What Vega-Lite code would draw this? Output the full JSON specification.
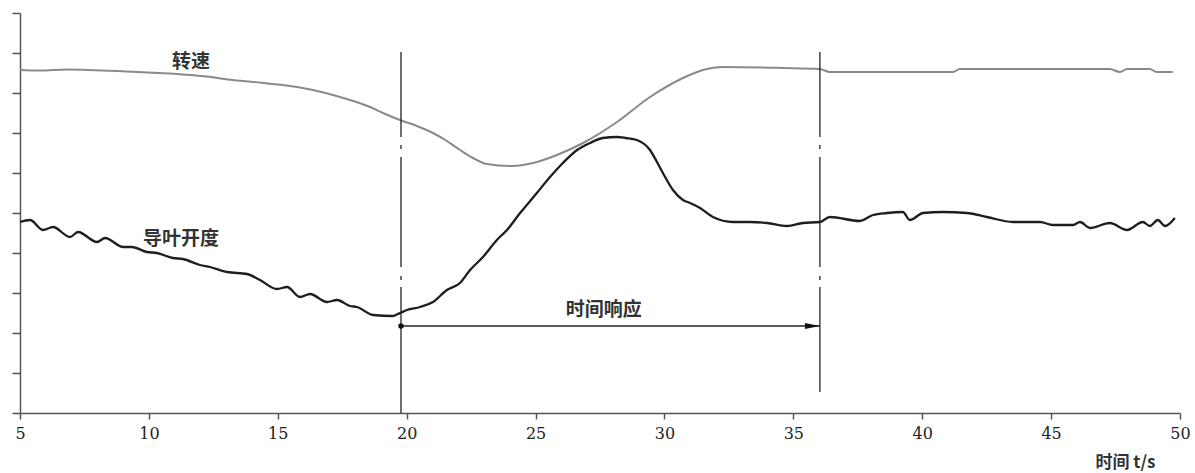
{
  "$schema": "https://vega.github.io/schema/vega-lite/v6.json",
  "width": 1160,
  "height": 400,
  "autosize": {"type": "none"},
  "padding": {"left": 20, "top": 13, "right": 15, "bottom": 60},
  "background": "white",
  "config": {"view": {"stroke": null}, "axis": {"grid": false}},
  "datasets": {
    "speed": [
      {"t": 5.00, "v": 8.575}, {"t": 5.78, "v": 8.56}, {"t": 6.82, "v": 8.59}, {"t": 9.38, "v": 8.53},
      {"t": 11.09, "v": 8.475}, {"t": 12.25, "v": 8.41}, {"t": 13.26, "v": 8.325}, {"t": 14.58, "v": 8.24},
      {"t": 15.86, "v": 8.14}, {"t": 17.80, "v": 7.825}, {"t": 18.58, "v": 7.65}, {"t": 19.08, "v": 7.50},
      {"t": 19.74, "v": 7.325}, {"t": 20.40, "v": 7.175}, {"t": 21.02, "v": 7.00}, {"t": 21.56, "v": 6.80},
      {"t": 22.07, "v": 6.575}, {"t": 22.57, "v": 6.375}, {"t": 23.11, "v": 6.225}, {"t": 24.12, "v": 6.175},
      {"t": 24.90, "v": 6.25}, {"t": 25.83, "v": 6.45}, {"t": 26.84, "v": 6.75}, {"t": 28.16, "v": 7.275},
      {"t": 29.44, "v": 7.90}, {"t": 30.72, "v": 8.375}, {"t": 31.49, "v": 8.575}, {"t": 32.27, "v": 8.65},
      {"t": 34.60, "v": 8.625}, {"t": 36.03, "v": 8.60}, {"t": 36.42, "v": 8.525}, {"t": 41.19, "v": 8.525},
      {"t": 41.46, "v": 8.60}, {"t": 47.28, "v": 8.60}, {"t": 47.67, "v": 8.525}, {"t": 47.94, "v": 8.60},
      {"t": 48.83, "v": 8.60}, {"t": 49.10, "v": 8.525}, {"t": 49.72, "v": 8.525}
    ],
    "guide": [
      {"t": 5.00, "v": 4.775}, {"t": 5.39, "v": 4.825}, {"t": 5.89, "v": 4.575}, {"t": 6.28, "v": 4.65},
      {"t": 6.94, "v": 4.40}, {"t": 7.25, "v": 4.525}, {"t": 7.99, "v": 4.275}, {"t": 8.30, "v": 4.375},
      {"t": 9.00, "v": 4.15}, {"t": 9.34, "v": 4.15}, {"t": 9.93, "v": 4.025}, {"t": 10.31, "v": 4.00},
      {"t": 10.93, "v": 3.875}, {"t": 11.32, "v": 3.85}, {"t": 11.98, "v": 3.70}, {"t": 12.37, "v": 3.65},
      {"t": 13.03, "v": 3.525}, {"t": 13.81, "v": 3.475}, {"t": 14.31, "v": 3.325}, {"t": 14.97, "v": 3.10},
      {"t": 15.36, "v": 3.15}, {"t": 15.86, "v": 2.90}, {"t": 16.25, "v": 2.975}, {"t": 16.91, "v": 2.775},
      {"t": 17.30, "v": 2.825}, {"t": 17.80, "v": 2.675}, {"t": 18.07, "v": 2.65}, {"t": 18.69, "v": 2.45},
      {"t": 19.47, "v": 2.425}, {"t": 19.66, "v": 2.475}, {"t": 20.01, "v": 2.575}, {"t": 20.52, "v": 2.65},
      {"t": 21.02, "v": 2.775}, {"t": 21.56, "v": 3.075}, {"t": 22.07, "v": 3.25}, {"t": 22.46, "v": 3.575},
      {"t": 22.96, "v": 3.90}, {"t": 23.50, "v": 4.325}, {"t": 23.89, "v": 4.575}, {"t": 24.40, "v": 5.00},
      {"t": 25.05, "v": 5.50}, {"t": 25.56, "v": 5.90}, {"t": 26.06, "v": 6.25}, {"t": 26.61, "v": 6.575},
      {"t": 27.11, "v": 6.75}, {"t": 27.61, "v": 6.875}, {"t": 28.16, "v": 6.90}, {"t": 28.50, "v": 6.875},
      {"t": 28.93, "v": 6.825}, {"t": 29.44, "v": 6.575}, {"t": 29.71, "v": 6.275}, {"t": 29.94, "v": 6.00},
      {"t": 30.33, "v": 5.575}, {"t": 30.72, "v": 5.325}, {"t": 30.99, "v": 5.25}, {"t": 31.38, "v": 5.125},
      {"t": 31.88, "v": 4.90}, {"t": 32.66, "v": 4.775}, {"t": 33.32, "v": 4.775}, {"t": 33.98, "v": 4.75},
      {"t": 34.75, "v": 4.675}, {"t": 35.37, "v": 4.75}, {"t": 36.03, "v": 4.775}, {"t": 36.42, "v": 4.90},
      {"t": 37.58, "v": 4.80}, {"t": 38.09, "v": 4.95}, {"t": 38.63, "v": 5.00}, {"t": 39.25, "v": 5.025},
      {"t": 39.52, "v": 4.825}, {"t": 40.03, "v": 5.00}, {"t": 40.80, "v": 5.025}, {"t": 41.73, "v": 5.00},
      {"t": 42.51, "v": 4.90}, {"t": 43.52, "v": 4.775}, {"t": 44.57, "v": 4.775}, {"t": 45.07, "v": 4.70},
      {"t": 45.85, "v": 4.70}, {"t": 46.12, "v": 4.775}, {"t": 46.51, "v": 4.625}, {"t": 47.28, "v": 4.75},
      {"t": 47.94, "v": 4.575}, {"t": 48.56, "v": 4.775}, {"t": 48.83, "v": 4.675}, {"t": 49.14, "v": 4.825},
      {"t": 49.42, "v": 4.675}, {"t": 49.80, "v": 4.875}
    ],
    "vlines": [
      {"t": 19.78, "y0": 9.025, "y1": 6.90}, {"t": 19.78, "y0": 6.70, "y1": 6.60},
      {"t": 19.78, "y0": 6.40, "y1": 3.65}, {"t": 19.78, "y0": 3.425, "y1": 3.325},
      {"t": 19.78, "y0": 3.15, "y1": 0},
      {"t": 36.03, "y0": 9.025, "y1": 6.90}, {"t": 36.03, "y0": 6.70, "y1": 6.60},
      {"t": 36.03, "y0": 6.40, "y1": 3.65}, {"t": 36.03, "y0": 3.425, "y1": 3.325},
      {"t": 36.03, "y0": 3.15, "y1": 0.525}
    ],
    "arrow": [{"t0": 19.78, "t1": 36.03, "v": 2.175}],
    "head": [{"t": 35.74, "v": 2.175}],
    "dot": [{"t": 19.78, "v": 2.175}],
    "labels": [
      {"t": 11.63, "v": 8.775, "text": "转速"},
      {"t": 11.25, "v": 4.35, "text": "导叶开度"},
      {"t": 27.65, "v": 2.575, "text": "时间响应"}
    ]
  },
  "layer": [
    {
      "data": {"name": "speed"},
      "mark": {"type": "line", "color": "#8a8a8a", "strokeWidth": 2, "interpolate": "monotone"},
      "encoding": {
        "x": {"field": "t", "type": "quantitative",
              "scale": {"domain": [5, 50], "nice": false, "zero": false},
              "axis": {"values": [5, 10, 15, 20, 25, 30, 35, 40, 45, 50], "tickCount": 50, "title": "时间 t/s",
                       "titleFont": "Noto Sans CJK SC", "titleFontSize": 17, "titleFontWeight": "bold", "titleColor": "#333",
                       "titleAnchor": "end", "titleAlign": "right", "titleX": 1135, "titleY": 54, "titleBaseline": "alphabetic",
                       "labelFont": "DejaVu Serif", "labelFontSize": 16, "labelColor": "#222", "labelPadding": 6,
                       "tickSize": 6, "tickColor": "#555", "tickWidth": 1.5, "domainColor": "#555", "domainWidth": 1.5,
                       "labelFlush": false, "labelOverlap": false}},
        "y": {"field": "v", "type": "quantitative",
              "scale": {"domain": [0, 10], "nice": false, "zero": false},
              "axis": {"values": [0, 1, 2, 3, 4, 5, 6, 7, 8, 9, 10], "tickCount": 50, "labels": false, "title": null,
                       "labelOverlap": false,
                       "tickSize": 8, "tickColor": "#555", "tickWidth": 1.5, "domainColor": "#555", "domainWidth": 1.5}}
      }
    },
    {
      "data": {"name": "guide"},
      "mark": {"type": "line", "color": "#1e1e1e", "strokeWidth": 2.3, "interpolate": "monotone"},
      "encoding": {
        "x": {"field": "t", "type": "quantitative"},
        "y": {"field": "v", "type": "quantitative"}
      }
    },
    {
      "data": {"name": "vlines"},
      "mark": {"type": "rule", "color": "#222", "strokeWidth": 1.3},
      "encoding": {
        "x": {"field": "t", "type": "quantitative"},
        "y": {"field": "y0", "type": "quantitative"},
        "y2": {"field": "y1"}
      }
    },
    {
      "data": {"name": "arrow"},
      "mark": {"type": "rule", "color": "#222", "strokeWidth": 1.3},
      "encoding": {
        "x": {"field": "t0", "type": "quantitative"},
        "x2": {"field": "t1"},
        "y": {"field": "v", "type": "quantitative"}
      }
    },
    {
      "data": {"name": "head"},
      "mark": {"type": "point", "shape": "M-1,-0.4L1,0L-1,0.4Z", "filled": true, "color": "#111", "size": 225, "opacity": 1},
      "encoding": {
        "x": {"field": "t", "type": "quantitative"},
        "y": {"field": "v", "type": "quantitative"}
      }
    },
    {
      "data": {"name": "dot"},
      "mark": {"type": "point", "shape": "circle", "filled": true, "color": "#111", "size": 30, "opacity": 1},
      "encoding": {
        "x": {"field": "t", "type": "quantitative"},
        "y": {"field": "v", "type": "quantitative"}
      }
    },
    {
      "data": {"name": "labels"},
      "mark": {"type": "text", "font": "Noto Sans CJK SC", "fontSize": 19, "fontWeight": "bold", "color": "#333", "align": "center", "baseline": "middle"},
      "encoding": {
        "x": {"field": "t", "type": "quantitative"},
        "y": {"field": "v", "type": "quantitative"},
        "text": {"field": "text"}
      }
    }
  ]
}
